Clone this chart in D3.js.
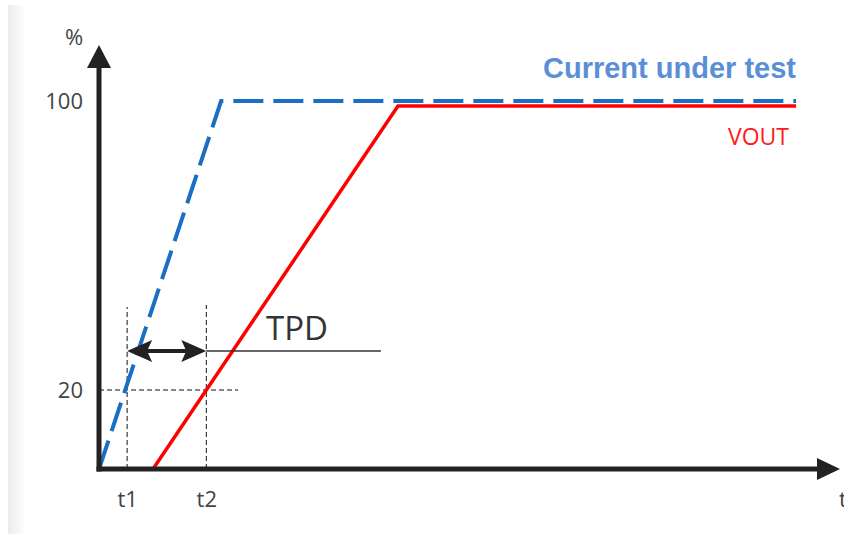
<!DOCTYPE html>
<html><head><meta charset="utf-8">
<script src="https://cdn.jsdelivr.net/npm/d3@7"></script>
<style>body{margin:0;background:#fff;}svg{display:block;}</style>
</head><body>
<script>
// ---- data ----
const blueT = [0, 16.5, 94.2];
const blueV = [0, 100, 100];
const redT = [7.3, 40.4, 94.2];
const redV = [0, 98.6, 98.6];
const yTicks = [20, 100];
const xTickVals = [3.8, 14.5];
const xTickLabels = ["t1", "t2"];
const levelPct = 20;
const tpdLineEnd = 38.1;
const seriesNames = ["Current under test", "VOUT"];

const W = 844, H = 534;
const svg = d3.select("body").append("svg").attr("width", W).attr("height", H);

// faint left strip
const defs = svg.append("defs");
const g1 = defs.append("linearGradient").attr("id","strip").attr("x1","0").attr("x2","1");
g1.append("stop").attr("offset","0").attr("stop-color","#ececec");
g1.append("stop").attr("offset","1").attr("stop-color","#ffffff");
svg.append("rect").attr("x",8).attr("y",5).attr("width",18).attr("height",H-5).attr("fill","url(#strip)");

const x = d3.scaleLinear().domain([0, 100]).range([99, 839]);
const y = d3.scaleLinear().domain([0, 20, 100]).range([469, 390, 101]);

const font = "'Open Sans', 'Noto Sans', sans-serif";
const labelColor = "#444";

// dashed guides
const guide = svg.append("g").attr("stroke","#111").attr("stroke-width",1).attr("stroke-dasharray","5,3").attr("fill","none");
guide.append("line").attr("x1",x(0)).attr("x2",x(18.8)).attr("y1",y(levelPct)).attr("y2",y(levelPct));
guide.append("line").attr("x1",x(xTickVals[0])).attr("x2",x(xTickVals[0])).attr("y1",y(0)).attr("y2",307);
guide.append("line").attr("x1",x(xTickVals[1])).attr("x2",x(xTickVals[1])).attr("y1",y(0)).attr("y2",305);

// series
const line = d3.line().x(d=>x(d[0])).y(d=>y(d[1]));
svg.append("path").datum(redT.map((t,i)=>[t,redV[i]])).attr("d",line)
  .attr("fill","none").attr("stroke","#ff0000").attr("stroke-width",3.5);
svg.append("path").datum(blueT.map((t,i)=>[t,blueV[i]])).attr("d",line)
  .attr("fill","none").attr("stroke","#1a6fc4").attr("stroke-width",4).attr("stroke-dasharray","30,10");

// TPD double arrow
const ay = 351;
svg.append("line").attr("x1",x(xTickVals[1])).attr("x2",x(tpdLineEnd)).attr("y1",ay).attr("y2",ay)
  .attr("stroke","#333").attr("stroke-width",1.3);
const xa = x(xTickVals[0]), xb = x(xTickVals[1]);
svg.append("line").attr("x1",xa+12).attr("x2",xb-12).attr("y1",ay).attr("y2",ay).attr("stroke","#222").attr("stroke-width",4);
svg.append("path").attr("d",`M${xa},${ay}L${xa+25},${ay-11}L${xa+20},${ay}L${xa+25},${ay+11}Z`).attr("fill","#222");
svg.append("path").attr("d",`M${xb},${ay}L${xb-25},${ay-11}L${xb-20},${ay}L${xb-25},${ay+11}Z`).attr("fill","#222");
svg.append("text").attr("x",266).attr("y",340).attr("font-family",font).attr("font-size",33).attr("fill","#333").text("TPD");

// axes lines with arrows
svg.append("line").attr("x1",x(0)).attr("x2",x(0)).attr("y1",y(0)+2.5).attr("y2",64).attr("stroke","#222").attr("stroke-width",5);
svg.append("path").attr("d",`M${x(0)},45L${x(0)+12},68L${x(0)-12},68Z`).attr("fill","#222");
svg.append("line").attr("x1",x(0)-2.5).attr("x2",822).attr("y1",y(0)).attr("y2",y(0)).attr("stroke","#222").attr("stroke-width",5);
svg.append("path").attr("d",`M840,${y(0)}L817,${y(0)-11}L817,${y(0)+11}Z`).attr("fill","#222");

// tick labels via d3 axes
const ya = svg.append("g").attr("transform",`translate(${x(0)},0)`)
  .call(d3.axisLeft(y).tickValues(yTicks).tickSize(0).tickPadding(16));
ya.select(".domain").remove();
ya.selectAll("text").attr("font-family",font).attr("font-size",22).attr("fill",labelColor);
const xaG = svg.append("g").attr("transform",`translate(0,${y(0)})`)
  .call(d3.axisBottom(x).tickValues(xTickVals).tickFormat((d,i)=>xTickLabels[i]).tickSize(0).tickPadding(22));
xaG.select(".domain").remove();
xaG.selectAll("text").attr("font-family",font).attr("font-size",22).attr("fill",labelColor);

svg.append("text").attr("x",74).attr("y",45).attr("text-anchor","middle").attr("font-family",font).attr("font-size",22).attr("fill",labelColor).text("%");
svg.append("text").attr("x",839).attr("y",507).attr("font-family",font).attr("font-size",22).attr("fill",labelColor).text("t");

// series labels
svg.append("text").attr("x",796).attr("y",78).attr("text-anchor","end").attr("font-family","'Liberation Sans', Arial, sans-serif")
  .attr("font-weight","bold").attr("font-size",29).attr("fill","#5a8fd8").text(seriesNames[0]);
svg.append("text").attr("x",789).attr("y",145).attr("text-anchor","end").attr("font-family",font)
  .attr("font-size",23).attr("fill","#ff1a1a").text(seriesNames[1]);
</script>
</body></html>
